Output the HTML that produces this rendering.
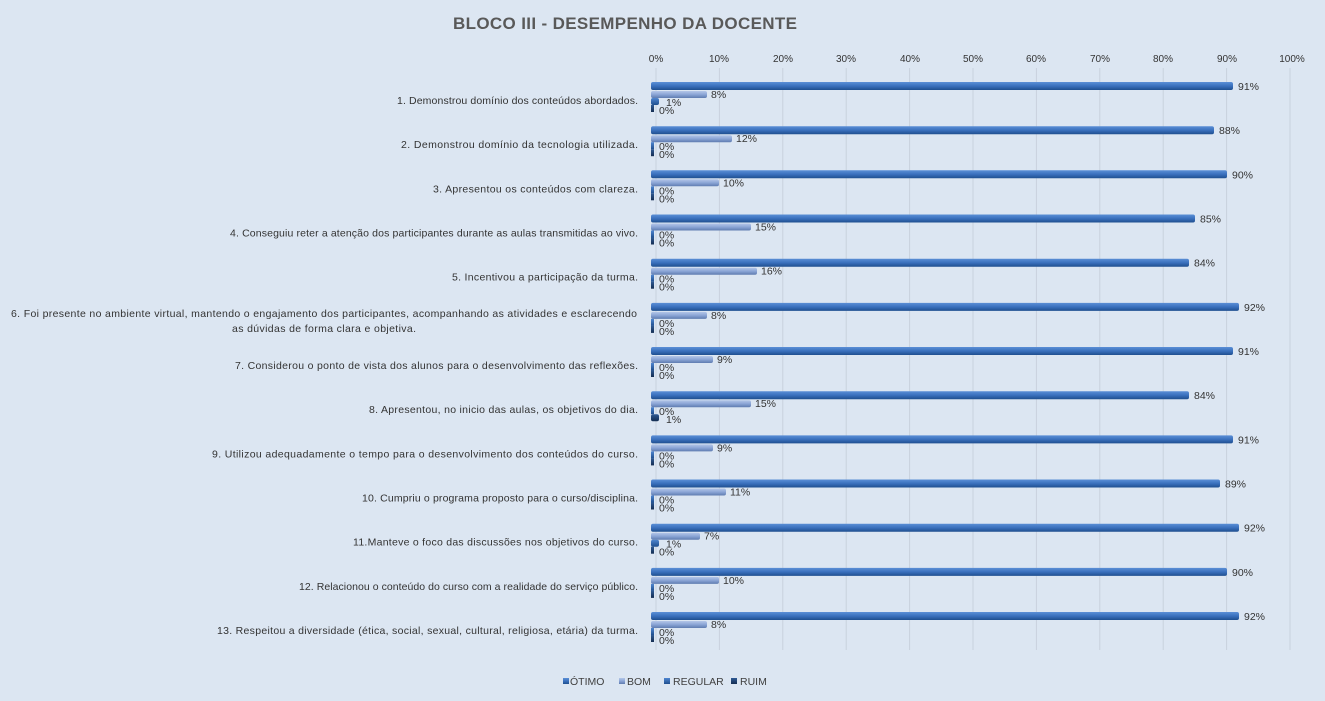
<!DOCTYPE html>
<html><head><meta charset="utf-8"><style>
html,body{margin:0;padding:0;background:#dce6f2;}
svg{display:block;font-family:"Liberation Sans",sans-serif;}
.c{font-size:10.5px;fill:#333;text-anchor:end;}
.v{font-size:10.5px;fill:#333;}
.t{font-size:10px;fill:#333;text-anchor:middle;}
</style></head><body>
<svg width="1325" height="701" viewBox="0 0 1325 701">
<defs>
<linearGradient id="go" x1="0" y1="0" x2="0" y2="1"><stop offset="0" stop-color="#5b8fd6"/><stop offset="0.5" stop-color="#3a70bd"/><stop offset="1" stop-color="#1f4f8f"/></linearGradient>
<linearGradient id="gb" x1="0" y1="0" x2="0" y2="1"><stop offset="0" stop-color="#b3c6e8"/><stop offset="0.5" stop-color="#8ba5d6"/><stop offset="1" stop-color="#5f7cb0"/></linearGradient>
<linearGradient id="gr" x1="0" y1="0" x2="0" y2="1"><stop offset="0" stop-color="#4f86d0"/><stop offset="1" stop-color="#1f4f8f"/></linearGradient>
<linearGradient id="gu" x1="0" y1="0" x2="0" y2="1"><stop offset="0" stop-color="#2f5a94"/><stop offset="1" stop-color="#142d52"/></linearGradient>
</defs>
<rect width="1325" height="701" fill="#dce6f2"/>
<text x="625" y="29" text-anchor="middle" font-size="17" font-weight="bold" fill="#595959" textLength="344">BLOCO III - DESEMPENHO  DA DOCENTE</text>
<g stroke="#c9d1dd" stroke-width="1">
<line x1="656" y1="68" x2="656" y2="650"/><line x1="719.4" y1="68" x2="719.4" y2="650"/><line x1="782.8" y1="68" x2="782.8" y2="650"/><line x1="846.2" y1="68" x2="846.2" y2="650"/><line x1="909.6" y1="68" x2="909.6" y2="650"/><line x1="973" y1="68" x2="973" y2="650"/><line x1="1036.4" y1="68" x2="1036.4" y2="650"/><line x1="1099.8" y1="68" x2="1099.8" y2="650"/><line x1="1163.2" y1="68" x2="1163.2" y2="650"/><line x1="1226.6" y1="68" x2="1226.6" y2="650"/><line x1="1290" y1="68" x2="1290" y2="650"/>
</g>
<g class="t">
<text class="t" x="656" y="62">0%</text><text class="t" x="719" y="62">10%</text><text class="t" x="783" y="62">20%</text><text class="t" x="846" y="62">30%</text><text class="t" x="910" y="62">40%</text><text class="t" x="973" y="62">50%</text><text class="t" x="1036" y="62">60%</text><text class="t" x="1100" y="62">70%</text><text class="t" x="1163" y="62">80%</text><text class="t" x="1227" y="62">90%</text><text class="t" x="1292" y="62">100%</text>
</g>

<g transform="translate(0,82)">
<text class="c" x="638" y="22" textLength="241">1. Demonstrou domínio dos conteúdos abordados.</text>
<rect x="651" y="0" width="582" height="8" rx="2" fill="url(#go)"/><text class="v" x="1238" y="8">91%</text>
<rect x="651" y="9" width="56" height="7" rx="2" fill="url(#gb)"/><text class="v" x="711" y="16">8%</text>
<rect x="651" y="16" width="8" height="7" rx="2" fill="url(#gr)"/><text class="v" x="666" y="24">1%</text>
<rect x="651" y="23" width="3" height="7" fill="url(#gu)"/><text class="v" x="659" y="32">0%</text>
</g>
<g transform="translate(0,126.2)">
<text class="c" x="638" y="22" textLength="237">2. Demonstrou domínio da tecnologia utilizada.</text>
<rect x="651" y="0" width="563" height="8" rx="2" fill="url(#go)"/><text class="v" x="1219" y="8">88%</text>
<rect x="651" y="9" width="81" height="7" rx="2" fill="url(#gb)"/><text class="v" x="736" y="16">12%</text>
<rect x="651" y="16" width="3" height="7" fill="url(#gr)"/><text class="v" x="659" y="24">0%</text>
<rect x="651" y="23" width="3" height="7" fill="url(#gu)"/><text class="v" x="659" y="32">0%</text>
</g>
<g transform="translate(0,170.3)">
<text class="c" x="638" y="22" textLength="205">3. Apresentou os conteúdos com clareza.</text>
<rect x="651" y="0" width="576" height="8" rx="2" fill="url(#go)"/><text class="v" x="1232" y="8">90%</text>
<rect x="651" y="9" width="68" height="7" rx="2" fill="url(#gb)"/><text class="v" x="723" y="16">10%</text>
<rect x="651" y="16" width="3" height="7" fill="url(#gr)"/><text class="v" x="659" y="24">0%</text>
<rect x="651" y="23" width="3" height="7" fill="url(#gu)"/><text class="v" x="659" y="32">0%</text>
</g>
<g transform="translate(0,214.5)">
<text class="c" x="638" y="22" textLength="408">4. Conseguiu reter a atenção dos participantes durante as aulas transmitidas ao vivo.</text>
<rect x="651" y="0" width="544" height="8" rx="2" fill="url(#go)"/><text class="v" x="1200" y="8">85%</text>
<rect x="651" y="9" width="100" height="7" rx="2" fill="url(#gb)"/><text class="v" x="755" y="16">15%</text>
<rect x="651" y="16" width="3" height="7" fill="url(#gr)"/><text class="v" x="659" y="24">0%</text>
<rect x="651" y="23" width="3" height="7" fill="url(#gu)"/><text class="v" x="659" y="32">0%</text>
</g>
<g transform="translate(0,258.7)">
<text class="c" x="638" y="22" textLength="186">5. Incentivou a participação da turma.</text>
<rect x="651" y="0" width="538" height="8" rx="2" fill="url(#go)"/><text class="v" x="1194" y="8">84%</text>
<rect x="651" y="9" width="106" height="7" rx="2" fill="url(#gb)"/><text class="v" x="761" y="16">16%</text>
<rect x="651" y="16" width="3" height="7" fill="url(#gr)"/><text class="v" x="659" y="24">0%</text>
<rect x="651" y="23" width="3" height="7" fill="url(#gu)"/><text class="v" x="659" y="32">0%</text>
</g>
<g transform="translate(0,302.9)">
<text class="c" x="637" y="14" textLength="626">6. Foi presente no ambiente virtual, mantendo o engajamento dos participantes, acompanhando as atividades e esclarecendo</text>
<text class="c" x="416" y="29" textLength="184">as dúvidas de forma clara e objetiva.</text>
<rect x="651" y="0" width="588" height="8" rx="2" fill="url(#go)"/><text class="v" x="1244" y="8">92%</text>
<rect x="651" y="9" width="56" height="7" rx="2" fill="url(#gb)"/><text class="v" x="711" y="16">8%</text>
<rect x="651" y="16" width="3" height="7" fill="url(#gr)"/><text class="v" x="659" y="24">0%</text>
<rect x="651" y="23" width="3" height="7" fill="url(#gu)"/><text class="v" x="659" y="32">0%</text>
</g>
<g transform="translate(0,347)">
<text class="c" x="638" y="22" textLength="403">7. Considerou o ponto de vista dos alunos para o desenvolvimento das reflexões.</text>
<rect x="651" y="0" width="582" height="8" rx="2" fill="url(#go)"/><text class="v" x="1238" y="8">91%</text>
<rect x="651" y="9" width="62" height="7" rx="2" fill="url(#gb)"/><text class="v" x="717" y="16">9%</text>
<rect x="651" y="16" width="3" height="7" fill="url(#gr)"/><text class="v" x="659" y="24">0%</text>
<rect x="651" y="23" width="3" height="7" fill="url(#gu)"/><text class="v" x="659" y="32">0%</text>
</g>
<g transform="translate(0,391.2)">
<text class="c" x="638" y="22" textLength="269">8. Apresentou, no inicio das aulas, os objetivos do dia.</text>
<rect x="651" y="0" width="538" height="8" rx="2" fill="url(#go)"/><text class="v" x="1194" y="8">84%</text>
<rect x="651" y="9" width="100" height="7" rx="2" fill="url(#gb)"/><text class="v" x="755" y="16">15%</text>
<rect x="651" y="16" width="3" height="7" fill="url(#gr)"/><text class="v" x="659" y="24">0%</text>
<rect x="651" y="23" width="8" height="7" rx="2" fill="url(#gu)"/><text class="v" x="666" y="32">1%</text>
</g>
<g transform="translate(0,435.4)">
<text class="c" x="638" y="22" textLength="426">9. Utilizou adequadamente o tempo para o desenvolvimento dos conteúdos do curso.</text>
<rect x="651" y="0" width="582" height="8" rx="2" fill="url(#go)"/><text class="v" x="1238" y="8">91%</text>
<rect x="651" y="9" width="62" height="7" rx="2" fill="url(#gb)"/><text class="v" x="717" y="16">9%</text>
<rect x="651" y="16" width="3" height="7" fill="url(#gr)"/><text class="v" x="659" y="24">0%</text>
<rect x="651" y="23" width="3" height="7" fill="url(#gu)"/><text class="v" x="659" y="32">0%</text>
</g>
<g transform="translate(0,479.5)">
<text class="c" x="638" y="22" textLength="276">10. Cumpriu o programa proposto para o curso/disciplina.</text>
<rect x="651" y="0" width="569" height="8" rx="2" fill="url(#go)"/><text class="v" x="1225" y="8">89%</text>
<rect x="651" y="9" width="75" height="7" rx="2" fill="url(#gb)"/><text class="v" x="730" y="16">11%</text>
<rect x="651" y="16" width="3" height="7" fill="url(#gr)"/><text class="v" x="659" y="24">0%</text>
<rect x="651" y="23" width="3" height="7" fill="url(#gu)"/><text class="v" x="659" y="32">0%</text>
</g>
<g transform="translate(0,523.7)">
<text class="c" x="638" y="22" textLength="285">11.Manteve o foco das discussões nos objetivos do curso.</text>
<rect x="651" y="0" width="588" height="8" rx="2" fill="url(#go)"/><text class="v" x="1244" y="8">92%</text>
<rect x="651" y="9" width="49" height="7" rx="2" fill="url(#gb)"/><text class="v" x="704" y="16">7%</text>
<rect x="651" y="16" width="8" height="7" rx="2" fill="url(#gr)"/><text class="v" x="666" y="24">1%</text>
<rect x="651" y="23" width="3" height="7" fill="url(#gu)"/><text class="v" x="659" y="32">0%</text>
</g>
<g transform="translate(0,567.9)">
<text class="c" x="638" y="22" textLength="339">12. Relacionou o conteúdo do curso com a realidade do serviço público.</text>
<rect x="651" y="0" width="576" height="8" rx="2" fill="url(#go)"/><text class="v" x="1232" y="8">90%</text>
<rect x="651" y="9" width="68" height="7" rx="2" fill="url(#gb)"/><text class="v" x="723" y="16">10%</text>
<rect x="651" y="16" width="3" height="7" fill="url(#gr)"/><text class="v" x="659" y="24">0%</text>
<rect x="651" y="23" width="3" height="7" fill="url(#gu)"/><text class="v" x="659" y="32">0%</text>
</g>
<g transform="translate(0,612)">
<text class="c" x="638" y="22" textLength="421">13. Respeitou a diversidade (ética, social, sexual, cultural, religiosa, etária) da turma.</text>
<rect x="651" y="0" width="588" height="8" rx="2" fill="url(#go)"/><text class="v" x="1244" y="8">92%</text>
<rect x="651" y="9" width="56" height="7" rx="2" fill="url(#gb)"/><text class="v" x="711" y="16">8%</text>
<rect x="651" y="16" width="3" height="7" fill="url(#gr)"/><text class="v" x="659" y="24">0%</text>
<rect x="651" y="23" width="3" height="7" fill="url(#gu)"/><text class="v" x="659" y="32">0%</text>
</g>

<g font-size="10.5" fill="#404040">
<rect x="563" y="678" width="6" height="6" fill="url(#go)"/><text x="570" y="685">ÓTIMO</text>
<rect x="619" y="678" width="6" height="6" fill="url(#gb)"/><text x="627" y="685">BOM</text>
<rect x="664" y="678" width="6" height="6" fill="url(#gr)"/><text x="673" y="685">REGULAR</text>
<rect x="731" y="678" width="6" height="6" fill="url(#gu)"/><text x="740" y="685">RUIM</text>
</g>
</svg>
</body></html>
